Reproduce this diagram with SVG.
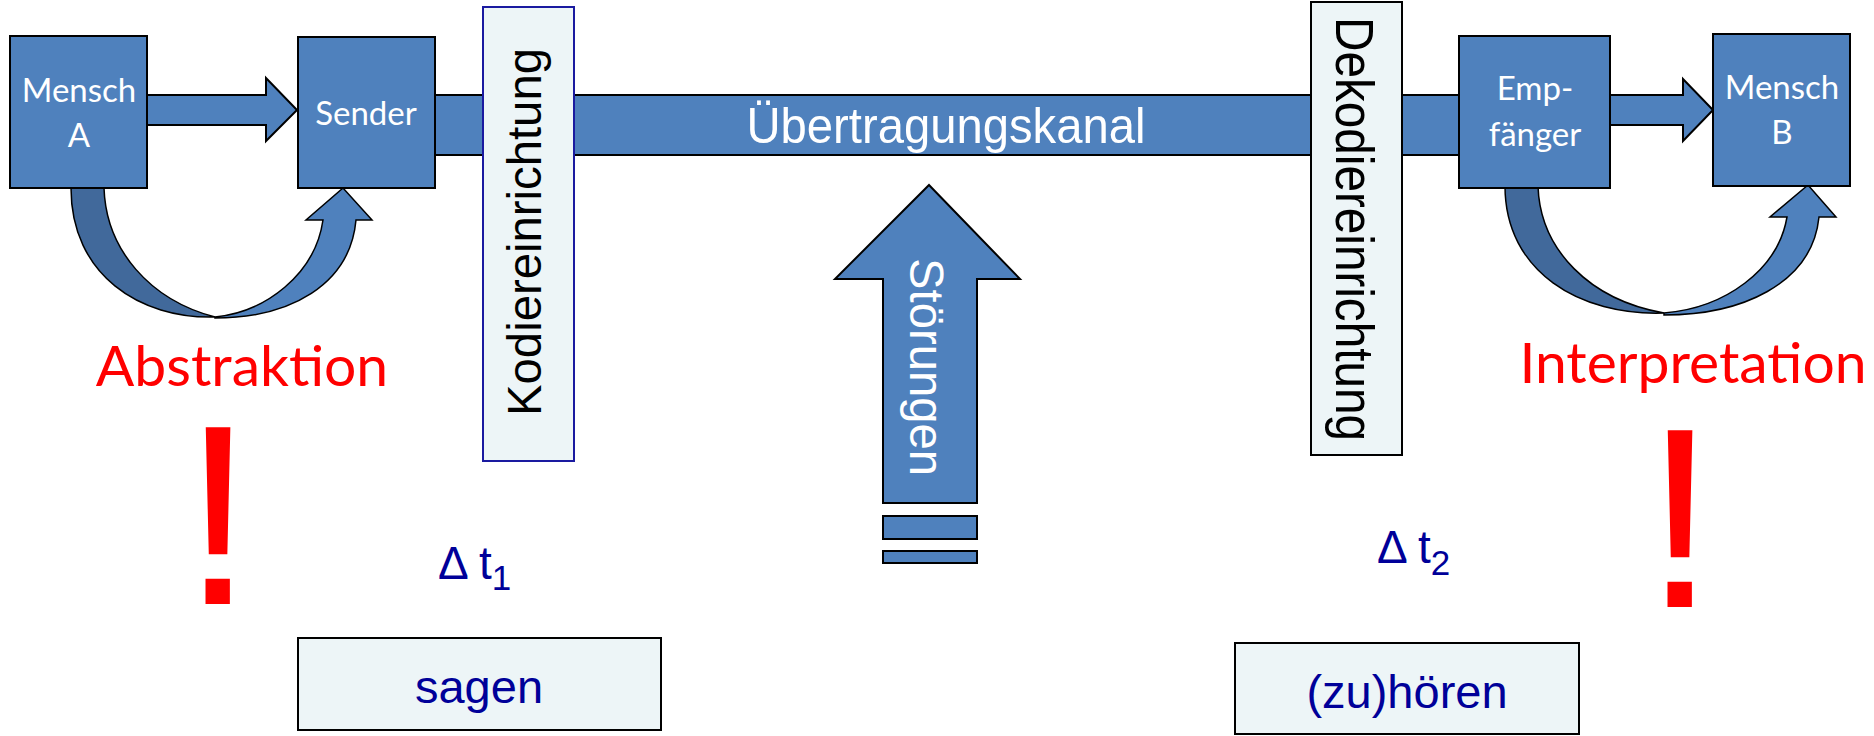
<svg xmlns="http://www.w3.org/2000/svg" width="1874" height="736" viewBox="0 0 1874 736">
<style>
.blue{fill:#4f81bd;stroke:#000;stroke-width:2}
.dark{fill:#41699b;stroke:#000;stroke-width:1.5}
.lite{fill:#4f81bd;stroke:#000;stroke-width:1.5}
.pale{fill:#edf5f7;stroke:#000;stroke-width:2}
.lbl{font-family:Lato,"Open Sans",sans-serif;fill:#fff;font-size:33px;text-anchor:middle}
.ar{font-family:"Liberation Sans",Arial,sans-serif}
.red{font-family:Lato,"Open Sans",sans-serif;fill:#ff0000;text-anchor:middle}
.bang{font-family:"Liberation Sans",Arial,sans-serif;fill:#ff0000;text-anchor:middle;font-size:257px}
.navy{fill:#000099}
</style>
<rect width="1874" height="736" fill="#fff"/>
<g id="connectors">
  <rect id="kanal" class="blue" x="435" y="95" width="1024" height="60"/>
  <polygon id="a-sender" class="blue" points="147,95 266,95 266,78 297,110 266,141 266,125 147,125"/>
  <polygon id="e-menschb" class="blue" points="1610,95 1683,95 1683,79 1713,110 1683,141 1683,125 1610,125"/>
  <g id="curve-left">
    <path class="dark" d="M71,188 L104,188 C106,250 150,300 215,317 C140,319 71,275 71,188 Z"/>
    <path class="lite" d="M215,318 C290,318 350,285 356,220 L372,220 L343,188 L306,220 L323,220 C315,275 265,312 215,317 Z"/>
  </g>
  <g id="curve-right">
    <path class="dark" d="M1505,186 L1538,186 C1540,250 1590,300 1664,313 C1580,316 1505,272 1505,186 Z"/>
    <path class="lite" d="M1664,315 C1740,315 1812,285 1819,217 L1836,217 L1808,185 L1770,217 L1787,217 C1778,270 1725,308 1664,313 Z"/>
  </g>
</g>
<g id="kanal-label">
  <text class="ar" x="946" y="143" font-size="50" fill="#fff" text-anchor="middle" textLength="399" lengthAdjust="spacingAndGlyphs">Übertragungskanal</text>
</g>
<g id="mensch-a">
  <rect class="blue" x="10" y="36" width="137" height="152"/>
  <text class="lbl" x="79" y="102">Mensch</text>
  <text class="lbl" x="79" y="147">A</text>
</g>
<g id="sender">
  <rect class="blue" x="298" y="37" width="137" height="151"/>
  <text class="lbl" x="366" y="125">Sender</text>
</g>
<g id="kodier">
  <rect x="483" y="7" width="91" height="454" fill="#edf5f7" stroke="#1a1aa0" stroke-width="2"/>
  <text class="ar" transform="translate(541,232) rotate(-90)" font-size="48" fill="#000" text-anchor="middle" textLength="368" lengthAdjust="spacingAndGlyphs">Kodiereinrichtung</text>
</g>
<g id="dekodier">
  <rect class="pale" x="1311" y="2" width="91" height="453"/>
  <text class="ar" transform="translate(1336,229) rotate(90)" font-size="54" fill="#000" text-anchor="middle" textLength="424" lengthAdjust="spacingAndGlyphs">Dekodiereinrichtung</text>
</g>
<g id="empfaenger">
  <rect class="blue" x="1459" y="36" width="151" height="152"/>
  <text class="lbl" x="1535" y="100">Emp-</text>
  <text class="lbl" x="1535" y="146">fänger</text>
</g>
<g id="mensch-b">
  <rect class="blue" x="1713" y="34" width="137" height="152"/>
  <text class="lbl" x="1782" y="99">Mensch</text>
  <text class="lbl" x="1782" y="144">B</text>
</g>
<g id="stoerungen">
  <polygon class="blue" points="929,185 1020,279 977,279 977,503 883,503 883,279 835,279"/>
  <rect class="blue" x="883" y="516" width="94" height="23"/>
  <rect class="blue" x="883" y="551" width="94" height="12"/>
  <text class="ar" transform="translate(910,367) rotate(90)" font-size="48" fill="#fff" text-anchor="middle" textLength="218" lengthAdjust="spacingAndGlyphs">Störungen</text>
</g>
<g id="abstraktion">
  <text class="red" x="242" y="386" font-size="57">Abstraktion</text>
  <text class="bang" x="218" y="604">!</text>
</g>
<g id="interpretation">
  <text class="red" x="1693" y="383" font-size="57">Interpretation</text>
  <text class="bang" x="1680" y="607">!</text>
</g>
<g id="dt1">
  <text class="ar navy" x="438" y="579" font-size="46">Δ t<tspan font-size="35" dy="11">1</tspan></text>
</g>
<g id="dt2">
  <text class="ar navy" x="1377" y="563" font-size="46">Δ t<tspan font-size="35" dy="12">2</tspan></text>
</g>
<g id="sagen">
  <rect class="pale" x="298" y="638" width="363" height="92"/>
  <text class="ar navy" x="479" y="703" font-size="47" text-anchor="middle">sagen</text>
</g>
<g id="zuhoeren">
  <rect class="pale" x="1235" y="643" width="344" height="91"/>
  <text class="ar navy" x="1407" y="708" font-size="47" text-anchor="middle">(zu)hören</text>
</g>
</svg>
